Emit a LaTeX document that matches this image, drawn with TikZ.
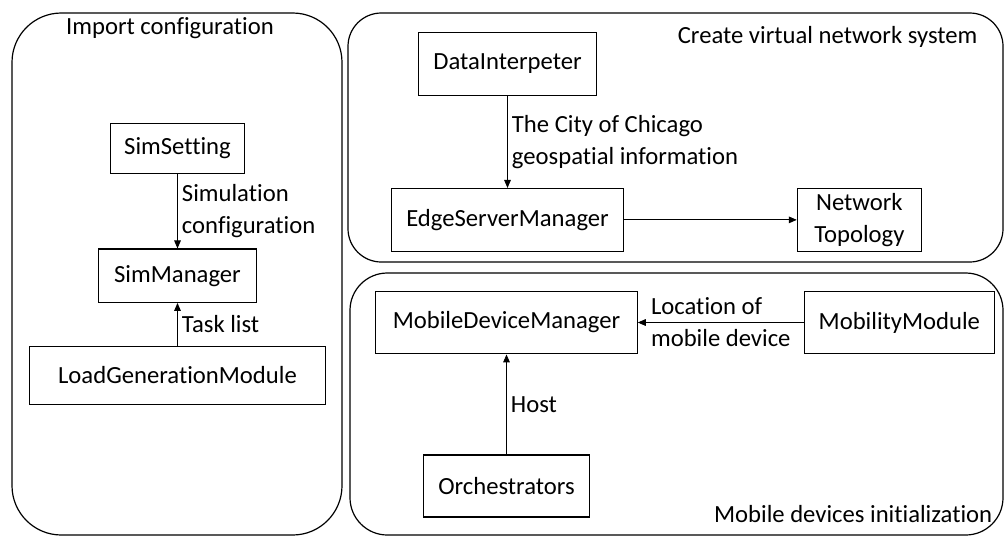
\documentclass[tikz,border=0pt]{standalone}
\usepackage{fontspec}
\setmainfont{Carlito}[Ligatures=NoCommon]
\usetikzlibrary{positioning,arrows.meta}

\begin{document}
\begin{tikzpicture}[
    x=0.75pt, y=-0.75pt,
    font=\fontsize{18.5}{24}\selectfont,
    block/.style={rectangle, draw, line width=0.9pt, minimum height=47pt, inner sep=2pt, align=center},
    panel/.style={draw, line width=0.9pt},
    arrow/.style={-{Triangle[length=6pt,width=5pt]}, line width=0.7pt},
    signal/.style={align=left, inner sep=3pt}
]
\useasboundingbox (0,0) rectangle (1005,536);

% Panels
\draw[panel, rounded corners=37pt] (12,13) rectangle (342,535);
\draw[panel, rounded corners=25pt] (348,13) rectangle (1003,262);
\draw[panel, rounded corners=28pt] (350,273) rectangle (1003,535);

\node (importtitle) at (170,28) {Import configuration};
\node[anchor=east] (networktitle) at (982,37) {Create virtual network system};
\node[anchor=east] (mobiletitle) at (997,514) {Mobile devices initialization};

% Import configuration
\node[block, minimum width=101pt, minimum height=38pt] (simsetting) at (177.5,148.5) {SimSetting};
\node[block, minimum width=118pt, minimum height=40pt, below=55.5pt of simsetting] (simmanager) {SimManager};
\node[block, minimum width=222pt, minimum height=43.5pt, below=32pt of simmanager] (loadgen) {LoadGenerationModule};

% Virtual network system
\node[block, minimum width=133pt] (datainterp) at (507.5,64) {DataInterpeter};
\node[block, minimum width=174pt, below=69pt of datainterp] (edgemgr) {EdgeServerManager};
\node[block, minimum width=93pt, right=129.5pt of edgemgr] (topology) {Network\\Topology};

% Mobile devices
\node[block, minimum width=196pt] (mobilemgr) at (506.5,322.5) {MobileDeviceManager};
\node[block, minimum width=142.5pt, right=124.5pt of mobilemgr] (mobility) {MobilityModule};
\node[block, minimum width=124.5pt, minimum height=46.5pt, below=75pt of mobilemgr] (orch) {Orchestrators};

% Arrows with labels
\draw[arrow] (simsetting) -- node[right, signal] {Simulation\\configuration} (simmanager);
\draw[arrow] (loadgen) -- node[right, signal] {Task list} (simmanager);
\draw[arrow] (datainterp) -- node[right, signal] {The City of Chicago\\geospatial information} (edgemgr);
\draw[arrow] (edgemgr) -- (topology);
\draw[arrow] (mobility) -- node[signal] {Location of\\mobile device} (mobilemgr);
\draw[arrow] (orch) -- node[right, signal] {Host} (mobilemgr);

\end{tikzpicture}
\end{document}
